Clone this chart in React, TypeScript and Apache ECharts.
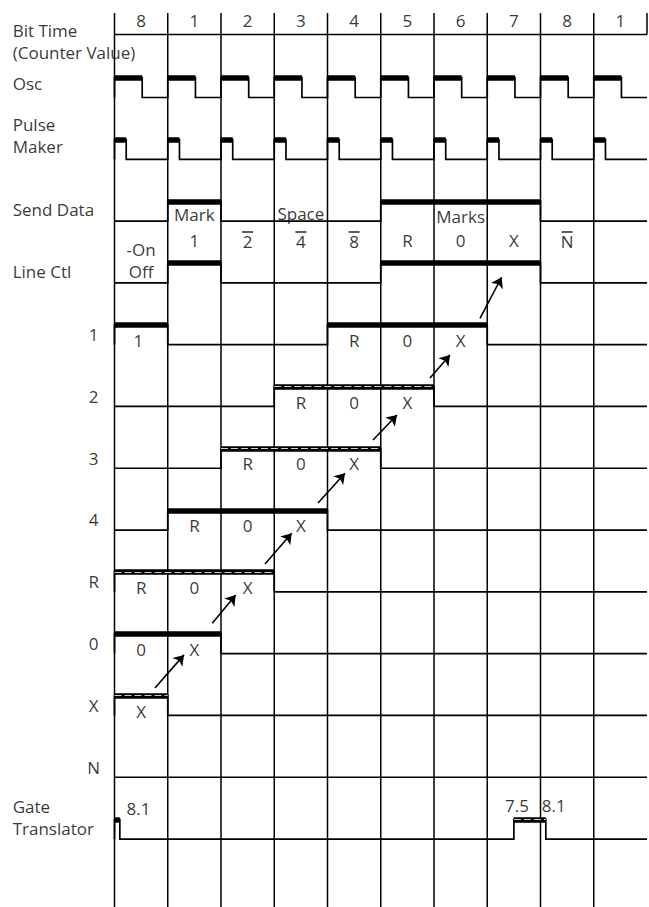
import React, { useEffect, useRef } from "react";
import * as echarts from "echarts";

// ---- data ----
const bitTimes = ["8", "1", "2", "3", "4", "5", "6", "7", "8", "1"];
const colEdges = [0, 1, 2, 3, 4, 5, 6, 7, 8, 9, 10];

// high intervals (bit-time column units) for each signal row
const oscHigh = [[0, 0.52], [1, 1.52], [2, 2.52], [3, 3.52], [4, 4.52], [5, 5.52], [6, 6.52], [7, 7.52], [8, 8.52], [9, 9.52]];
const pulseHigh = [[0, 0.22], [1, 1.22], [2, 2.22], [3, 3.22], [4, 4.22], [5, 5.22], [6, 6.22], [7, 7.22], [8, 8.22], [9, 9.22]];
const sendHigh = [[1, 2], [5, 8]];
const lineCtlHigh = [[1, 2], [5, 8]];
const c1High = [[0, 1], [4, 7]];
const c2High = [[3, 6]];
const c3High = [[2, 5]];
const c4High = [[1, 4]];
const cRHigh = [[0, 3]];
const c0High = [[0, 2]];
const cXHigh = [[0, 1]];
const cNHigh: number[][] = [];
const gateHigh = [[0, 0.1], [7.5, 8.1]];

const signals = [oscHigh, pulseHigh, sendHigh, lineCtlHigh, c1High, c2High, c3High, c4High, cRHigh, c0High, cXHigh, cNHigh, gateHigh];

// left-hand labels [text, y]
const leftLabels: [string, number][] = [
  ["Bit Time\n(Counter Value)", -0.914],
  ["Osc", -0.227],
  ["Pulse\nMaker", 0.62],
  ["Send Data", 1.82],
  ["Line Ctl", 2.824],
  ["Gate\nTranslator", 11.655],
];
const counterNames = ["1", "2", "3", "4", "R", "0", "X", "N"];
const counterRows = [4, 5, 6, 7, 8, 9, 10, 11];

// complemented (overbarred) labels [text, column, y]
const barLabels: [string, number, number][] = [
  ["2", 2.5, 2.306],
  ["4", 3.5, 2.306],
  ["8", 4.5, 2.306],
  ["N", 8.5, 2.306],
];

// labels in cells [text, column, y]
const cellLabels: [string, number, number][] = [
  ["Mark", 1.5, 1.893],
  ["Space", 3.5, 1.874],
  ["Marks", 6.5, 1.926],
  ["1", 1.5, 2.322],
  ["R", 5.5, 2.322],
  ["0", 6.5, 2.322],
  ["X", 7.5, 2.322],
  ["-On\nOff", 0.5, 2.63],
  ["1", 0.45, 3.93],
  ["R", 4.5, 3.93], ["0", 5.5, 3.93], ["X", 6.5, 3.93],
  ["R", 3.5, 4.93], ["0", 4.5, 4.93], ["X", 5.5, 4.93],
  ["R", 2.5, 5.93], ["0", 3.5, 5.93], ["X", 4.5, 5.93],
  ["R", 1.5, 6.93], ["0", 2.5, 6.93], ["X", 3.5, 6.93],
  ["R", 0.5, 7.93], ["0", 1.5, 7.93], ["X", 2.5, 7.93],
  ["0", 0.5, 8.93], ["X", 1.5, 8.93],
  ["X", 0.5, 9.93],
  ["8.1", 0.45, 11.513],
  ["7.5", 7.56, 11.46],
  ["8.1", 8.25, 11.46],
];

// arrows [x1, y1, x2, y2]
const arrows = [
  [0.76, 9.555, 1.305, 9.02],
  [1.836, 8.508, 2.276, 8.05],
  [2.826, 7.549, 3.328, 7.052],
  [3.822, 6.561, 4.328, 6.08],
  [4.854, 5.542, 5.305, 5.138],
  [5.925, 4.539, 6.3, 4.167],
  [6.864, 3.573, 7.27, 2.909],
];

// ---- layout / style constants ----
const HIGH = 0.32;
const Y_TOP = -1.367;
const Y_HEADER = -1.019;
const Y_BOTTOM = 13.1;
const HEADER_Y = -1.254;
const LEFT_X = -1.912;
const COUNTER_X = -0.39;
const FONT = "'Open Sans', 'DejaVu Sans', sans-serif";
const FS = 17;
const LH = 22;

// style of each high interval: "solid" or "double"
const rowStyle = ["solid", "solid", "solid", "solid", "solid", "double", "double", "solid", "double", "solid", "double", "solid", ["solid", "double"]];
const styleOf = (r: number, i: number) => {
  const s = rowStyle[r];
  return Array.isArray(s) ? s[i] : s;
};

function buildWave(iv: number[][], r: number) {
  const low = r;
  const high = r - HIGH;
  const pts: number[][] = [[0, low]];
  iv.forEach(([a, b]) => {
    pts.push([a, low], [a, high], [b, high], [b, low]);
  });
  pts.push([colEdges[colEdges.length - 1], low]);
  return pts;
}

function textSeries(items: { x: number; y: number; t: string }[], align: string, extraLabel: any = {}) {
  return {
    type: "scatter",
    symbolSize: 1,
    itemStyle: { color: "rgba(0,0,0,0)" },
    silent: true,
    clip: false,
    z: 10,
    data: items.map((it) => ({ value: [it.x, it.y], name: it.t })),
    label: {
      show: true,
      position: "inside",
      formatter: "{b}",
      color: "#000",
      fontFamily: FONT,
      fontSize: FS,
      lineHeight: LH,
      align,
      verticalAlign: "middle",
      ...extraLabel,
    },
  };
}

export default function App() {
  const ref = useRef<HTMLDivElement>(null);
  useEffect(() => {
    const chart = echarts.init(ref.current!, null, { renderer: "svg" });
    const last = colEdges[colEdges.length - 1];

    const gridLines = colEdges.map((x) => ({
      coords: [[x, Y_TOP], [x, x === last ? Y_HEADER : Y_BOTTOM]],
    }));
    gridLines.push({ coords: [[0, Y_HEADER], [last, Y_HEADER]] });

    const waves = signals.map((iv, r) => ({ coords: buildWave(iv, r) }));
    const solid: any[] = [];
    const dbl: any[] = [];
    signals.forEach((iv, r) => {
      iv.forEach(([a, b], i) => {
        const seg = { coords: [[a, r - HIGH], [b, r - HIGH]] };
        if (styleOf(r, i) === "double") dbl.push(seg);
        else solid.push(seg);
      });
    });

    const option: any = {
      animation: false,
      backgroundColor: "#ffffff",
      grid: { left: 8, right: 2, top: 4.8, bottom: 0, containLabel: false },
      xAxis: { type: "value", min: -2, max: 10, show: false },
      yAxis: { type: "value", min: -1.5, max: 13.1, inverse: true, show: false },
      series: [
        {
          type: "lines",
          coordinateSystem: "cartesian2d",
          polyline: true,
          silent: true,
          z: 1,
          lineStyle: { color: "#000", width: 1.5, opacity: 1 },
          data: gridLines,
        },
        {
          type: "lines",
          coordinateSystem: "cartesian2d",
          polyline: true,
          silent: true,
          z: 2,
          lineStyle: { color: "#000", width: 1.7, opacity: 1, join: "miter" },
          data: waves,
        },
        {
          type: "lines",
          coordinateSystem: "cartesian2d",
          silent: true,
          z: 3,
          lineStyle: { color: "#000", width: 5.5, opacity: 1, cap: "butt" },
          data: solid,
        },
        {
          type: "lines",
          coordinateSystem: "cartesian2d",
          silent: true,
          z: 3,
          lineStyle: { color: "#000", width: 5.5, opacity: 1, cap: "butt" },
          data: dbl,
        },
        {
          type: "lines",
          coordinateSystem: "cartesian2d",
          silent: true,
          z: 4,
          lineStyle: { color: "#fff", width: 1.1, opacity: 0.8, type: [7, 3], cap: "butt" },
          data: dbl,
        },
        {
          type: "lines",
          coordinateSystem: "cartesian2d",
          silent: true,
          z: 5,
          symbol: ["none", "arrow"],
          symbolSize: 10,
          lineStyle: { color: "#000", width: 1.6, opacity: 1 },
          data: arrows.map(([x1, y1, x2, y2]) => ({ coords: [[x1, y1], [x2, y2]] })),
        },
        textSeries(bitTimes.map((t, k) => ({ x: colEdges[k] + 0.5, y: HEADER_Y, t })), "center"),
        textSeries(leftLabels.map(([t, y]) => ({ x: LEFT_X, y, t })), "left"),
        textSeries(counterNames.map((t, i) => ({ x: COUNTER_X, y: counterRows[i] - 0.165, t })), "center"),
        textSeries(cellLabels.map(([t, x, y]) => ({ x, y, t })), "center"),
        textSeries(barLabels.map(([t, x, y]) => ({ x, y, t })), "center", {
          formatter: (p: any) => "{bar| }\n{d|" + p.name + "}",
          rich: {
            bar: { width: 11, height: 1.6, lineHeight: 3, backgroundColor: "#000", fontSize: 1 },
            d: { fontFamily: FONT, fontSize: FS, lineHeight: 16, color: "#000" },
          },
        }),
      ],
    };
    chart.setOption(option);
    return () => chart.dispose();
  }, []);
  return (
    <div
      ref={ref}
      style={{ position: "fixed", left: 0, top: 0, width: 649, height: 907, background: "#fff" }}
    />
  );
}
